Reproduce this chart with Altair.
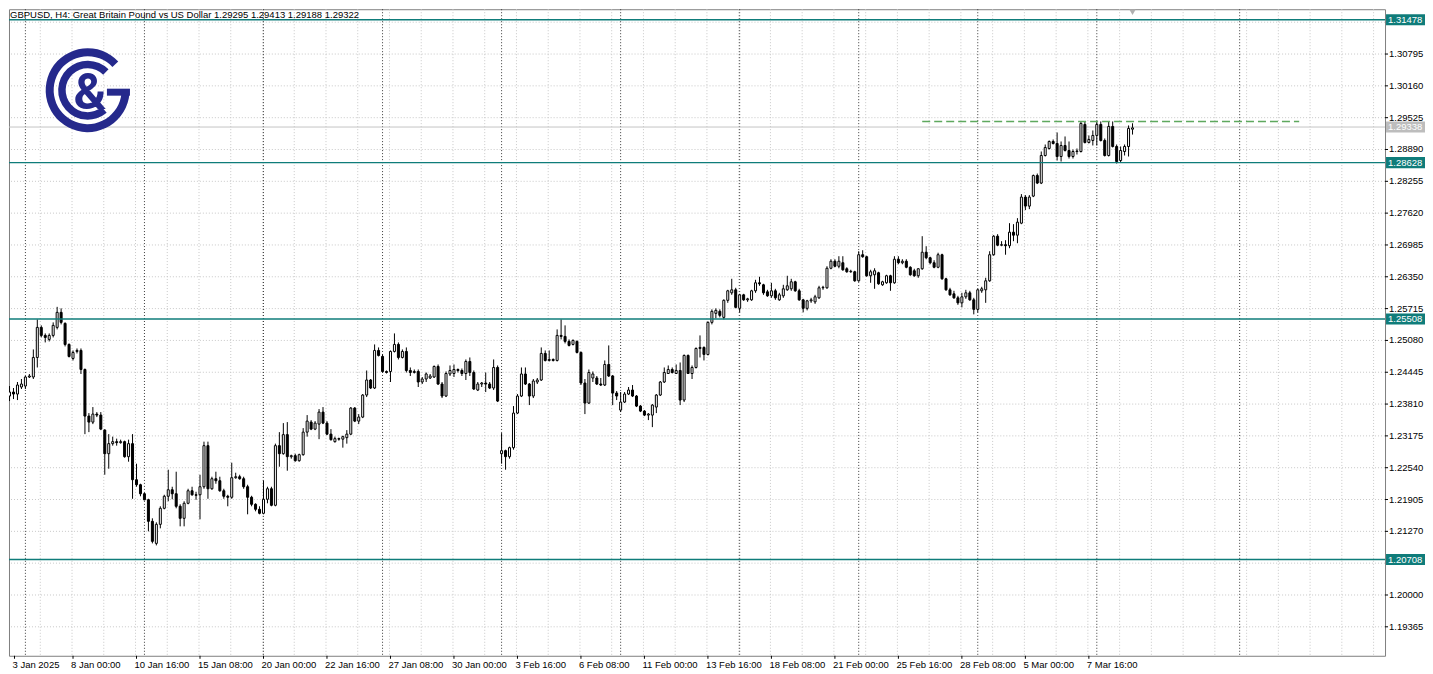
import altair as alt
import pandas as pd

# ---------------- data (GBPUSD H4) ----------------
open_ = [
    1.2397, 1.2405, 1.2401, 1.2415, 1.2417, 1.2435, 1.2435, 1.2474, 1.2534, 1.2518,
    1.2510, 1.2518, 1.2534, 1.2564, 1.2542, 1.2500, 1.2472, 1.2486, 1.2488, 1.2450,
    1.2357, 1.2345, 1.2361, 1.2359, 1.2329, 1.2282, 1.2302, 1.2306, 1.2304, 1.2306,
    1.2276, 1.2302, 1.2230, 1.2220, 1.2202, 1.2190, 1.2147, 1.2103, 1.2141, 1.2173,
    1.2197, 1.2210, 1.2202, 1.2177, 1.2153, 1.2183, 1.2208, 1.2200, 1.2200, 1.2216,
    1.2298, 1.2212, 1.2232, 1.2228, 1.2208, 1.2197, 1.2195, 1.2234, 1.2236, 1.2232,
    1.2216, 1.2195, 1.2181, 1.2171, 1.2163, 1.2191, 1.2212, 1.2179, 1.2298, 1.2282,
    1.2320, 1.2276, 1.2278, 1.2268, 1.2280, 1.2325, 1.2345, 1.2331, 1.2341, 1.2365,
    1.2343, 1.2321, 1.2306, 1.2312, 1.2311, 1.2314, 1.2321, 1.2373, 1.2347, 1.2355,
    1.2399, 1.2429, 1.2413, 1.2488, 1.2476, 1.2446, 1.2446, 1.2486, 1.2500, 1.2474,
    1.2486, 1.2448, 1.2444, 1.2446, 1.2425, 1.2431, 1.2433, 1.2435, 1.2456, 1.2421,
    1.2397, 1.2441, 1.2442, 1.2450, 1.2448, 1.2442, 1.2466, 1.2444, 1.2409, 1.2421,
    1.2423, 1.2421, 1.2413, 1.2454, 1.2282, 1.2288, 1.2276, 1.2294, 1.2363, 1.2397,
    1.2441, 1.2421, 1.2397, 1.2425, 1.2429, 1.2482, 1.2468, 1.2470, 1.2468, 1.2518,
    1.2516, 1.2506, 1.2500, 1.2506, 1.2484, 1.2423, 1.2383, 1.2433, 1.2433, 1.2421,
    1.2419, 1.2460, 1.2437, 1.2403, 1.2369, 1.2385, 1.2401, 1.2409, 1.2397, 1.2377,
    1.2367, 1.2359, 1.2359, 1.2375, 1.2399, 1.2425, 1.2442, 1.2450, 1.2442, 1.2448,
    1.2389, 1.2478, 1.2442, 1.2454, 1.2492, 1.2494, 1.2480, 1.2544, 1.2562, 1.2566,
    1.2554, 1.2588, 1.2603, 1.2609, 1.2572, 1.2599, 1.2589, 1.2589, 1.2607, 1.2623,
    1.2619, 1.2605, 1.2597, 1.2607, 1.2589, 1.2597, 1.2609, 1.2611, 1.2625, 1.2607,
    1.2589, 1.2572, 1.2587, 1.2585, 1.2593, 1.2613, 1.2613, 1.2652, 1.2666, 1.2656,
    1.2663, 1.2651, 1.2645, 1.2645, 1.2627, 1.2679, 1.2675, 1.2637, 1.2639, 1.2643,
    1.2619, 1.2623, 1.2637, 1.2623, 1.2670, 1.2663, 1.2666, 1.2654, 1.2647, 1.2637,
    1.2651, 1.2684, 1.2673, 1.2663, 1.2654, 1.2679, 1.2631, 1.2609, 1.2601, 1.2593,
    1.2583, 1.2595, 1.2603, 1.2589, 1.2570, 1.2607, 1.2609, 1.2627, 1.2679, 1.2716,
    1.2698, 1.2699, 1.2697, 1.2724, 1.2718, 1.2742, 1.2794, 1.2776, 1.2796, 1.2837,
    1.2822, 1.2877, 1.2891, 1.2905, 1.2901, 1.2875, 1.2897, 1.2887, 1.2875, 1.2885,
    1.2885, 1.2939, 1.2903, 1.2907, 1.2917, 1.2939, 1.2907, 1.2877, 1.2935, 1.2895,
    1.2867, 1.2885, 1.2895, 1.29295,
]
high_ = [
    1.2417, 1.2413, 1.2425, 1.2431, 1.2437, 1.2441, 1.2490, 1.2550, 1.2538, 1.2522,
    1.2522, 1.2544, 1.2575, 1.2572, 1.2544, 1.2502, 1.2488, 1.2492, 1.2492, 1.2452,
    1.2363, 1.2375, 1.2365, 1.2365, 1.2331, 1.2321, 1.2316, 1.2312, 1.2310, 1.2308,
    1.2310, 1.2321, 1.2262, 1.2222, 1.2204, 1.2192, 1.2153, 1.2145, 1.2177, 1.2200,
    1.2250, 1.2216, 1.2246, 1.2181, 1.2187, 1.2212, 1.2216, 1.2206, 1.2240, 1.2306,
    1.2306, 1.2236, 1.2246, 1.2236, 1.2212, 1.2200, 1.2264, 1.2244, 1.2240, 1.2236,
    1.2220, 1.2198, 1.2183, 1.2177, 1.2228, 1.2216, 1.2216, 1.2302, 1.2325, 1.2343,
    1.2345, 1.2280, 1.2282, 1.2282, 1.2333, 1.2359, 1.2349, 1.2347, 1.2371, 1.2375,
    1.2347, 1.2331, 1.2316, 1.2314, 1.2318, 1.2329, 1.2375, 1.2375, 1.2361, 1.2401,
    1.2448, 1.2431, 1.2500, 1.2494, 1.2480, 1.2448, 1.2488, 1.2522, 1.2504, 1.2490,
    1.2494, 1.2454, 1.2450, 1.2450, 1.2435, 1.2444, 1.2441, 1.2458, 1.2460, 1.2425,
    1.2446, 1.2458, 1.2460, 1.2452, 1.2452, 1.2470, 1.2474, 1.2448, 1.2425, 1.2425,
    1.2444, 1.2425, 1.2470, 1.2458, 1.2323, 1.2290, 1.2296, 1.2377, 1.2401, 1.2454,
    1.2454, 1.2423, 1.2431, 1.2433, 1.2494, 1.2488, 1.2488, 1.2472, 1.2530, 1.2550,
    1.2538, 1.2510, 1.2510, 1.2508, 1.2486, 1.2431, 1.2450, 1.2446, 1.2437, 1.2433,
    1.2468, 1.2498, 1.2439, 1.2407, 1.2405, 1.2405, 1.2415, 1.2419, 1.2399, 1.2379,
    1.2369, 1.2363, 1.2381, 1.2401, 1.2427, 1.2454, 1.2458, 1.2454, 1.2460, 1.2464,
    1.2480, 1.2480, 1.2458, 1.2494, 1.2518, 1.2496, 1.2546, 1.2570, 1.2572, 1.2570,
    1.2590, 1.2609, 1.2631, 1.2613, 1.2601, 1.2601, 1.2593, 1.2609, 1.2629, 1.2635,
    1.2621, 1.2609, 1.2623, 1.2611, 1.2603, 1.2619, 1.2637, 1.2631, 1.2627, 1.2611,
    1.2591, 1.2589, 1.2593, 1.2599, 1.2617, 1.2617, 1.2656, 1.2670, 1.2670, 1.2676,
    1.2676, 1.2654, 1.2649, 1.2647, 1.2686, 1.2688, 1.2677, 1.2649, 1.2652, 1.2645,
    1.2627, 1.2639, 1.2639, 1.2676, 1.2676, 1.2670, 1.2670, 1.2656, 1.2651, 1.2652,
    1.2716, 1.2696, 1.2675, 1.2668, 1.2683, 1.2681, 1.2633, 1.2613, 1.2607, 1.2597,
    1.2603, 1.2609, 1.2607, 1.2593, 1.2611, 1.2615, 1.2633, 1.2686, 1.2718, 1.2720,
    1.2706, 1.2708, 1.2742, 1.2740, 1.2752, 1.2800, 1.2798, 1.2798, 1.2839, 1.2841,
    1.2885, 1.2899, 1.2907, 1.2909, 1.2923, 1.2905, 1.2915, 1.2905, 1.2889, 1.2891,
    1.2945, 1.2945, 1.2917, 1.2927, 1.2945, 1.2945, 1.2911, 1.2945, 1.2945, 1.2899,
    1.2895, 1.2899, 1.2937, 1.29413,
]
low_ = [
    1.2387, 1.2391, 1.2389, 1.2411, 1.2411, 1.2433, 1.2431, 1.2454, 1.2514, 1.2504,
    1.2506, 1.2514, 1.2530, 1.2540, 1.2496, 1.2474, 1.2468, 1.2482, 1.2441, 1.2321,
    1.2325, 1.2341, 1.2355, 1.2329, 1.2240, 1.2252, 1.2298, 1.2298, 1.2302, 1.2274,
    1.2266, 1.2192, 1.2216, 1.2197, 1.2189, 1.2127, 1.2103, 1.2099, 1.2133, 1.2171,
    1.2187, 1.2191, 1.2173, 1.2137, 1.2137, 1.2181, 1.2198, 1.2190, 1.2151, 1.2212,
    1.2192, 1.2210, 1.2222, 1.2206, 1.2192, 1.2177, 1.2192, 1.2232, 1.2230, 1.2212,
    1.2161, 1.2177, 1.2167, 1.2161, 1.2161, 1.2183, 1.2177, 1.2177, 1.2256, 1.2280,
    1.2248, 1.2272, 1.2266, 1.2266, 1.2278, 1.2316, 1.2329, 1.2329, 1.2311, 1.2341,
    1.2319, 1.2308, 1.2304, 1.2308, 1.2294, 1.2302, 1.2319, 1.2345, 1.2341, 1.2353,
    1.2395, 1.2411, 1.2411, 1.2476, 1.2444, 1.2442, 1.2425, 1.2484, 1.2470, 1.2472,
    1.2444, 1.2437, 1.2442, 1.2415, 1.2421, 1.2425, 1.2431, 1.2433, 1.2419, 1.2393,
    1.2395, 1.2437, 1.2435, 1.2444, 1.2437, 1.2429, 1.2437, 1.2409, 1.2407, 1.2415,
    1.2405, 1.2411, 1.2409, 1.2385, 1.2262, 1.2250, 1.2272, 1.2290, 1.2361, 1.2395,
    1.2419, 1.2379, 1.2393, 1.2421, 1.2427, 1.2466, 1.2466, 1.2466, 1.2466, 1.2510,
    1.2502, 1.2496, 1.2498, 1.2482, 1.2419, 1.2361, 1.2381, 1.2425, 1.2419, 1.2417,
    1.2417, 1.2435, 1.2379, 1.2389, 1.2365, 1.2383, 1.2399, 1.2395, 1.2375, 1.2365,
    1.2357, 1.2349, 1.2335, 1.2363, 1.2397, 1.2423, 1.2441, 1.2442, 1.2441, 1.2379,
    1.2385, 1.2441, 1.2431, 1.2452, 1.2474, 1.2468, 1.2478, 1.2540, 1.2552, 1.2554,
    1.2550, 1.2583, 1.2599, 1.2572, 1.2564, 1.2587, 1.2585, 1.2587, 1.2603, 1.2617,
    1.2599, 1.2595, 1.2593, 1.2589, 1.2587, 1.2593, 1.2607, 1.2607, 1.2605, 1.2587,
    1.2564, 1.2568, 1.2583, 1.2581, 1.2591, 1.2609, 1.2611, 1.2650, 1.2654, 1.2652,
    1.2647, 1.2643, 1.2643, 1.2625, 1.2625, 1.2673, 1.2635, 1.2623, 1.2611, 1.2619,
    1.2617, 1.2621, 1.2607, 1.2621, 1.2660, 1.2660, 1.2652, 1.2637, 1.2635, 1.2633,
    1.2649, 1.2670, 1.2660, 1.2652, 1.2652, 1.2629, 1.2607, 1.2597, 1.2591, 1.2579,
    1.2574, 1.2591, 1.2587, 1.2560, 1.2564, 1.2603, 1.2583, 1.2625, 1.2677, 1.2696,
    1.2696, 1.2679, 1.2692, 1.2706, 1.2702, 1.2740, 1.2768, 1.2770, 1.2794, 1.2820,
    1.2820, 1.2875, 1.2889, 1.2899, 1.2867, 1.2865, 1.2885, 1.2871, 1.2871, 1.2879,
    1.2883, 1.2901, 1.2901, 1.2897, 1.2897, 1.2905, 1.2875, 1.2875, 1.2893, 1.2861,
    1.2863, 1.2877, 1.2875, 1.29188,
]
close_ = [
    1.2405, 1.2401, 1.2419, 1.2421, 1.2435, 1.2437, 1.2474, 1.2534, 1.2518, 1.2514,
    1.2518, 1.2538, 1.2564, 1.2544, 1.2500, 1.2476, 1.2484, 1.2488, 1.2450, 1.2357,
    1.2345, 1.2361, 1.2359, 1.2331, 1.2282, 1.2302, 1.2306, 1.2304, 1.2306, 1.2276,
    1.2302, 1.2230, 1.2220, 1.2202, 1.2190, 1.2147, 1.2107, 1.2141, 1.2173, 1.2197,
    1.2210, 1.2202, 1.2177, 1.2153, 1.2183, 1.2208, 1.2200, 1.2199, 1.2216, 1.2298,
    1.2212, 1.2232, 1.2228, 1.2208, 1.2197, 1.2195, 1.2234, 1.2236, 1.2232, 1.2216,
    1.2195, 1.2181, 1.2171, 1.2163, 1.2191, 1.2212, 1.2179, 1.2298, 1.2282, 1.2320,
    1.2276, 1.2278, 1.2268, 1.2280, 1.2325, 1.2347, 1.2331, 1.2343, 1.2365, 1.2343,
    1.2321, 1.2310, 1.2312, 1.2311, 1.2316, 1.2321, 1.2373, 1.2347, 1.2355, 1.2399,
    1.2429, 1.2413, 1.2488, 1.2478, 1.2446, 1.2444, 1.2486, 1.2500, 1.2474, 1.2486,
    1.2448, 1.2444, 1.2446, 1.2425, 1.2431, 1.2441, 1.2437, 1.2456, 1.2421, 1.2397,
    1.2442, 1.2448, 1.2450, 1.2448, 1.2442, 1.2466, 1.2444, 1.2411, 1.2421, 1.2423,
    1.2421, 1.2413, 1.2454, 1.2387, 1.2288, 1.2276, 1.2294, 1.2363, 1.2397, 1.2441,
    1.2421, 1.2397, 1.2427, 1.2429, 1.2482, 1.2468, 1.2470, 1.2468, 1.2518, 1.2516,
    1.2506, 1.2498, 1.2508, 1.2484, 1.2423, 1.2383, 1.2444, 1.2441, 1.2421, 1.2419,
    1.2460, 1.2437, 1.2403, 1.2397, 1.2385, 1.2401, 1.2409, 1.2397, 1.2377, 1.2367,
    1.2359, 1.2361, 1.2379, 1.2399, 1.2425, 1.2444, 1.2450, 1.2444, 1.2448, 1.2389,
    1.2478, 1.2442, 1.2454, 1.2492, 1.2494, 1.2480, 1.2544, 1.2566, 1.2568, 1.2558,
    1.2588, 1.2607, 1.2609, 1.2574, 1.2599, 1.2589, 1.2591, 1.2607, 1.2623, 1.2621,
    1.2603, 1.2597, 1.2607, 1.2593, 1.2599, 1.2611, 1.2617, 1.2625, 1.2607, 1.2589,
    1.2572, 1.2587, 1.2589, 1.2595, 1.2613, 1.2614, 1.2652, 1.2666, 1.2656, 1.2666,
    1.2649, 1.2645, 1.2646, 1.2627, 1.2679, 1.2675, 1.2637, 1.2645, 1.2647, 1.2621,
    1.2625, 1.2637, 1.2623, 1.2670, 1.2663, 1.2666, 1.2654, 1.2639, 1.2637, 1.2651,
    1.2684, 1.2673, 1.2663, 1.2654, 1.2679, 1.2631, 1.2609, 1.2599, 1.2593, 1.2583,
    1.2595, 1.2603, 1.2589, 1.2570, 1.2609, 1.2611, 1.2627, 1.2679, 1.2716, 1.2698,
    1.2699, 1.2697, 1.2724, 1.2718, 1.2744, 1.2794, 1.2776, 1.2794, 1.2837, 1.2822,
    1.2877, 1.2893, 1.2905, 1.2901, 1.2875, 1.2897, 1.2887, 1.2875, 1.2885, 1.2886,
    1.2941, 1.2903, 1.2909, 1.2917, 1.2939, 1.2907, 1.2877, 1.2935, 1.2895, 1.2865,
    1.2887, 1.2895, 1.2931, 1.29322,
]

time_labels = ["3 Jan 2025", "8 Jan 00:00", "10 Jan 16:00", "15 Jan 08:00", "20 Jan 00:00",
               "22 Jan 16:00", "27 Jan 08:00", "30 Jan 00:00", "3 Feb 16:00", "6 Feb 08:00",
               "11 Feb 00:00", "13 Feb 16:00", "18 Feb 08:00", "21 Feb 00:00", "25 Feb 16:00",
               "28 Feb 08:00", "5 Mar 00:00", "7 Mar 16:00"]
label_bars = [0, 16, 32, 48, 64, 80, 96, 112, 128, 144, 160, 176, 192, 208, 224, 240, 256, 272]
week_start_bars = [4, 34, 64, 94, 124, 154, 184, 214, 244, 274]
extra_vline_bar = 310
price_ticks = [1.19365, 1.20000, 1.20635, 1.21270, 1.21905, 1.22540, 1.23175, 1.23810,
               1.24445, 1.25080, 1.25715, 1.26350, 1.26985, 1.27620, 1.28255, 1.28890,
               1.29525, 1.30160, 1.30795, 1.31430]
hidden_ticks = [1.20635, 1.31430]
level_prices = [1.31478, 1.28628, 1.25508, 1.20708]
bid_price = 1.29338
resist_price = 1.2945
resist_bars = [230, 325]
shift_bar = 283
header_text = "GBPUSD, H4:  Great Britain Pound vs US Dollar  1.29295 1.29413 1.29188 1.29322"

# ---------------- styling ----------------
FONT = "Liberation Sans"
FS = 9.5
TEAL = "#0f7c7a"
NAVY = "#25298c"
W, H = 1377, 647
X0 = 1.125  # left end of the bar-index domain

df = pd.DataFrame({"i": list(range(len(close_))), "o": open_, "h": high_, "l": low_, "c": close_})
df["dir"] = ["up" if c >= o else "down" for o, c in zip(open_, close_)]

xscale = alt.Scale(domain=[X0, X0 + W / 4.0], nice=False, zero=False)
yscale = alt.Scale(domain=[1.18787, 1.31689], nice=False, zero=False)


def X(field):
    return alt.X(field, scale=xscale, axis=None)


def Y(field):
    return alt.Y(field, scale=yscale, axis=None)


one = pd.DataFrame({"k": [0]})

# grid
vgrid = alt.Chart(pd.DataFrame({"x": [8 * k - 0.25 for k in range(1, 44)]})).mark_rule(
    color="#c8c8c8", strokeDash=[1, 2], strokeWidth=1).encode(x=X("x:Q"))
hgrid = alt.Chart(pd.DataFrame({"p": price_ticks})).mark_rule(
    color="#c8c8c8", strokeDash=[1, 2], strokeWidth=1).encode(y=Y("p:Q"))
seps = alt.Chart(pd.DataFrame({"x": week_start_bars + [extra_vline_bar]})).mark_rule(
    color="#3a3a3a", strokeDash=[1, 2], strokeWidth=1).encode(x=X("x:Q"))
bidline = alt.Chart(pd.DataFrame({"p": [bid_price]})).mark_rule(
    color="#c4c4c4", strokeWidth=1).encode(y=Y("p:Q"))

# price axis (right) drawn as ticks + text
ptick_df = pd.DataFrame({"p": [p for p in price_ticks if p not in hidden_ticks]})
ptick_df["t"] = [f"{p:.5f}" for p in ptick_df["p"]]
ptick = alt.Chart(ptick_df).mark_rule(color="#000000", strokeWidth=1).encode(
    x=alt.value(W), x2=alt.value(W + 3), y=Y("p:Q"))
plabel = alt.Chart(ptick_df).mark_text(align="left", baseline="middle", font=FONT,
                                       fontSize=FS, color="#000000").encode(
    x=alt.value(W + 4), y=Y("p:Q"), text="t:N")

# time axis (bottom) drawn as ticks + text
tl_df = pd.DataFrame({"b": label_bars, "t": time_labels})
ttick = alt.Chart(tl_df).transform_calculate(bx=f"max(datum.b, {X0 + 0.125})").mark_rule(
    color="#000000", strokeWidth=1).encode(x=X("bx:Q"), y=alt.value(H), y2=alt.value(H + 3))
tlabel = alt.Chart(tl_df).transform_calculate(bx=f"max(datum.b, {X0 + 0.125})").mark_text(
    align="left", baseline="top", font=FONT, fontSize=FS, color="#000000", dx=-2).encode(
    x=X("bx:Q"), y=alt.value(H + 4), text="t:N")

# logo
logo_outer = alt.Chart(one).mark_arc(radius=42, radius2=34, theta=1.54, theta2=7.10,
                                     color=NAVY).encode(x=alt.value(78.7), y=alt.value(81))
logo_inner = alt.Chart(one).mark_arc(radius=29.5, radius2=22, theta=2.44, theta2=7.07,
                                     color=NAVY).encode(x=alt.value(78.7), y=alt.value(81))
logo_bar = alt.Chart(one).mark_rect(color=NAVY).encode(
    x=alt.value(98), x2=alt.value(121), y=alt.value(79.5), y2=alt.value(86.5))
logo_amp = alt.Chart(one).mark_text(text="&", font="Roboto", fontWeight="bold", fontSize=50,
                                    align="center", baseline="alphabetic", color=NAVY).encode(
    x=alt.value(81), y=alt.value(100))

# candles
wicks = alt.Chart(df).mark_rule(color="#000000", strokeWidth=1, clip=True).encode(
    x=X("i:Q"), y=Y("l:Q"), y2="h:Q")
bodies = alt.Chart(df).mark_bar(size=2, stroke="#000000", strokeWidth=1, clip=True).encode(
    x=X("i:Q"), y=Y("o:Q"), y2="c:Q",
    fill=alt.Fill("dir:N", scale=alt.Scale(domain=["up", "down"], range=["#ffffff", "#000000"]),
                  legend=None))

# levels
lev_df = pd.DataFrame({"p": level_prices, "t": [f"{p:.5f}" for p in level_prices]})
levels = alt.Chart(lev_df).mark_rule(color=TEAL, strokeWidth=1.5).encode(y=Y("p:Q"))
resist = alt.Chart(pd.DataFrame({"a": [resist_bars[0]], "b": [resist_bars[1]],
                                 "p": [resist_price]})).mark_rule(
    color="#5ea85e", strokeWidth=1.4, strokeDash=[8, 4]).encode(
    x=X("a:Q"), x2="b:Q", y=Y("p:Q"))

lev_box = alt.Chart(lev_df).transform_calculate(
    y0="datum.p - 0.0011", y1="datum.p + 0.0011").mark_rect(color=TEAL).encode(
    x=alt.value(W + 1), x2=alt.value(W + 40), y=Y("y0:Q"), y2="y1:Q")
lev_txt = alt.Chart(lev_df).mark_text(align="left", baseline="middle", color="#ffffff",
                                      font=FONT, fontSize=FS).encode(
    x=alt.value(W + 3), y=Y("p:Q"), text="t:N")
bid_df = pd.DataFrame({"p": [bid_price], "t": [f"{bid_price:.5f}"]})
bid_box = alt.Chart(bid_df).transform_calculate(
    y0="datum.p - 0.0011", y1="datum.p + 0.0011").mark_rect(color="#bdbdbd").encode(
    x=alt.value(W + 1), x2=alt.value(W + 40), y=Y("y0:Q"), y2="y1:Q")
bid_txt = alt.Chart(bid_df).mark_text(align="left", baseline="middle", color="#ffffff",
                                      font=FONT, fontSize=FS).encode(
    x=alt.value(W + 3), y=Y("p:Q"), text="t:N")

header = alt.Chart(one).mark_text(text=header_text, align="left", baseline="top",
                                  font=FONT, fontSize=FS, color="#000000").encode(
    x=alt.value(1), y=alt.value(0.5))
shift_mark = alt.Chart(pd.DataFrame({"x": [shift_bar]})).mark_point(
    shape="triangle-down", filled=True, size=40, color="#b0b0b0", opacity=1).encode(
    x=X("x:Q"), y=alt.value(3))

chart = alt.layer(
    vgrid, hgrid, seps, bidline,
    wicks, bodies,
    levels, resist,
    logo_outer, logo_inner, logo_bar, logo_amp,
    ptick, plabel, ttick, tlabel,
    lev_box, lev_txt, bid_box, bid_txt,
    header, shift_mark,
).properties(width=W, height=H, padding=0, background="#ffffff").configure_view(
    stroke="#808080", strokeWidth=1)

chart.save("out.html", embed_options={"renderer": "svg", "actions": False})
